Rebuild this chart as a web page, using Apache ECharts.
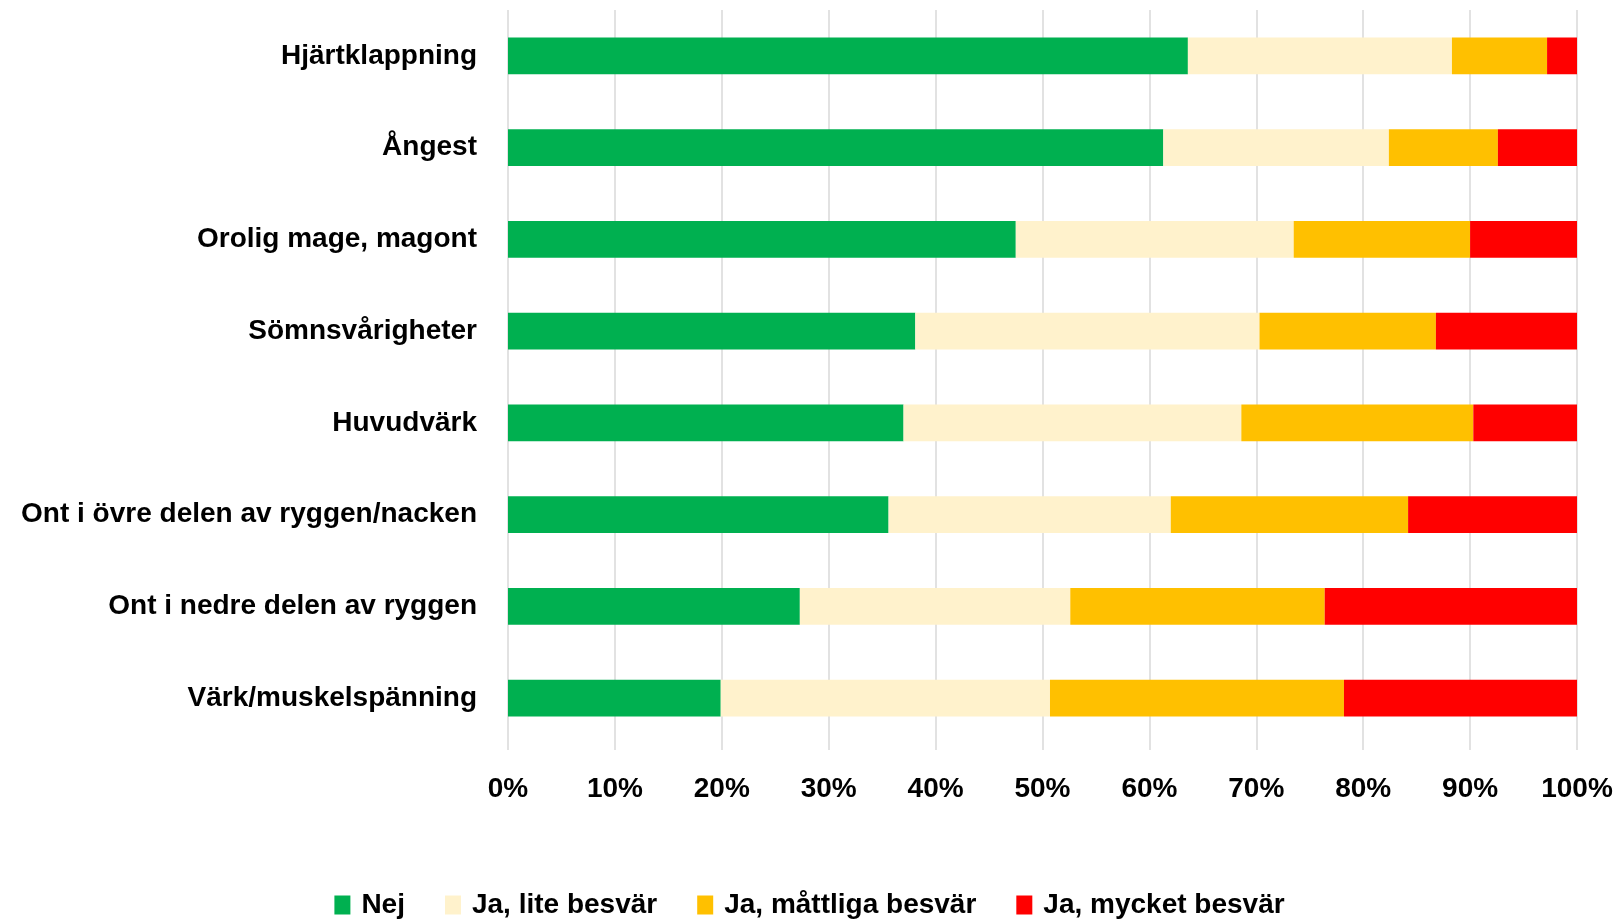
<!DOCTYPE html>
<html>
<head>
<meta charset="utf-8">
<script src="https://cdn.jsdelivr.net/npm/echarts@6/dist/echarts.min.js"></script>
<style>
  html, body { margin: 0; padding: 0; background: #fff; }
  #chart { width: 1619px; height: 921px; }
</style>
</head>
<body>
<div id="chart"></div>
<script>
// kategorier (uppifrån och ned)
const categories = [
  'Hjärtklappning',
  'Ångest',
  'Orolig mage, magont',
  'Sömnsvårigheter',
  'Huvudvärk',
  'Ont i övre delen av ryggen/nacken',
  'Ont i nedre delen av ryggen',
  'Värk/muskelspänning'
];

// andelar i procent
const nej      = [63.6, 61.3, 47.5, 38.1, 37.0, 35.6, 27.3, 19.9];
const lite     = [24.7, 21.1, 26.0, 32.2, 31.6, 26.4, 25.3, 30.8];
const mattliga = [ 8.9, 10.2, 16.5, 16.5, 21.7, 22.2, 23.8, 27.5];
const mycket   = [ 2.8,  7.4, 10.0, 13.2,  9.7, 15.8, 23.6, 21.8];

const seriesNames = ['Nej', 'Ja, lite besvär', 'Ja, måttliga besvär', 'Ja, mycket besvär'];
const colors = ['#00B050', '#FFF2CC', '#FFC000', '#FF0000'];

const font = '"Liberation Sans", Arial, sans-serif';

const chart = echarts.init(document.getElementById('chart'));

chart.setOption({
  animation: false,
  textStyle: { fontFamily: font },
  grid: { left: 508, right: 42, top: 10, bottom: 177, containLabel: false },
  legend: {
    top: 886,
    left: 'center',
    icon: 'rect',
    itemWidth: 16,
    itemHeight: 19,
    itemGap: 40,
    textStyle: { fontSize: 28, fontWeight: 'bold', color: '#000', fontFamily: font, padding: [0, 0, 0, 6] },
    data: seriesNames
  },
  xAxis: {
    type: 'value',
    min: 0,
    max: 100,
    interval: 10,
    axisLine: { show: false },
    axisTick: { show: true, length: 6, lineStyle: { color: '#d9d9d9', width: 1.5 } },
    splitLine: { show: true, lineStyle: { color: '#d9d9d9', width: 1.5 } },
    axisLabel: {
      margin: 31,
      fontSize: 28,
      fontWeight: 'bold',
      color: '#000',
      formatter: v => v + '%'
    }
  },
  yAxis: {
    type: 'category',
    inverse: true,
    data: categories,
    axisLine: { show: false },
    axisTick: { show: false },
    axisLabel: { margin: 31, fontSize: 28, fontWeight: 'bold', color: '#000' }
  },
  series: [nej, lite, mattliga, mycket].map((vals, i) => ({
    name: seriesNames[i],
    type: 'bar',
    stack: 'total',
    barWidth: '40%',
    itemStyle: { color: colors[i] },
    data: vals
  }))
});
</script>
</body>
</html>
